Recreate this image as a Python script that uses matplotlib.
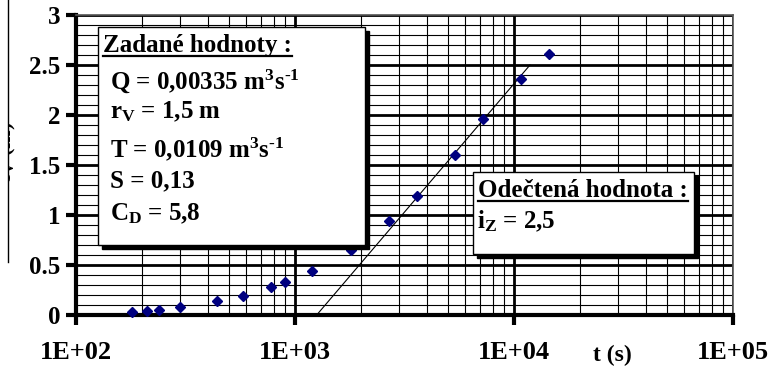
import numpy as np
import matplotlib
matplotlib.use("Agg")
import matplotlib.pyplot as plt
from matplotlib.patches import Rectangle
from matplotlib.lines import Line2D
from matplotlib.ticker import FixedLocator, FuncFormatter, NullFormatter

# measured drawdown s_V (m) vs time t (s)
t_data = [180, 210, 240, 300, 440, 580, 780, 900, 1200, 1800, 2700, 3600, 5400, 7200, 10800, 14400]
s_data = [0.03, 0.04, 0.05, 0.08, 0.14, 0.19, 0.28, 0.33, 0.44, 0.65, 0.94, 1.19, 1.60, 1.96, 2.36, 2.61]

# straight line fitted on the late points
line_t = [1256, 11830]
line_s = [0.0, 2.5]

x_major = [1e2, 1e3, 1e4, 1e5]
y_major = [0, 0.5, 1, 1.5, 2, 2.5, 3]

given_title = "Zadané hodnoty :"
given_lines = [
    r"Q = 0,00335 m$^{3}$s$^{\text{-}1}$",
    r"r$_\mathrm{V}$ = 1,5 m",
    r"T = 0,0109 m$^{3}$s$^{\text{-}1}$",
    "S = 0,13",
    r"C$_\mathrm{D}$ = 5,8",
]
read_title = "Odečtená hodnota :"
read_lines = [r"i$_\mathrm{Z}$ = 2,5"]

plt.rcParams["font.family"] = ["Liberation Serif", "DejaVu Serif"]
plt.rcParams["font.weight"] = "bold"
plt.rcParams["mathtext.fontset"] = "custom"
plt.rcParams["mathtext.rm"] = "Liberation Serif:bold"
plt.rcParams["mathtext.it"] = "Liberation Serif:bold"
plt.rcParams["mathtext.bf"] = "Liberation Serif:bold"

W, H = 769, 372
fig = plt.figure(figsize=(W / 100, H / 100), dpi=100)


def fx(px):
    return px / W


def fy(py):
    return 1 - py / H


ax = fig.add_axes([fx(76), fy(315), fx(733) - fx(76), fy(15) - fy(315)])
ax.set_xscale("log")
ax.set_xlim(1e2, 1e5)
ax.set_ylim(0, 3)

# grid
ax.xaxis.set_major_locator(FixedLocator(x_major))
minor_x = [m * d for d in [1e2, 1e3, 1e4] for m in range(2, 10)]
ax.xaxis.set_minor_locator(FixedLocator(minor_x))
ax.xaxis.set_minor_formatter(NullFormatter())
ax.yaxis.set_major_locator(FixedLocator(y_major))
ax.yaxis.set_minor_locator(FixedLocator(np.arange(0, 3.01, 0.1)))
ax.grid(True, which="major", color="black", linewidth=2)
ax.grid(True, which="minor", color="black", linewidth=0.8)
ax.set_axisbelow(True)

ax.xaxis.set_major_formatter(FuncFormatter(lambda v, p: "%.0E" % v))
ax.yaxis.set_major_formatter(FuncFormatter(lambda v, p: "%g" % v))
ax.tick_params(axis="both", which="major", direction="out", length=7, width=3, color="black")
ax.tick_params(axis="both", which="minor", length=0)
ax.tick_params(axis="x", which="major", labelsize=19, pad=12)
ax.tick_params(axis="y", which="major", labelsize=18, pad=4)

for side in ["left", "bottom"]:
    ax.spines[side].set_linewidth(3)
for side in ["top", "right"]:
    ax.spines[side].set_linewidth(1.2)
    ax.spines[side].set_color("#555555")

ax.plot(line_t, line_s, color="black", linewidth=0.8, zorder=3)
ax.plot(t_data, s_data, linestyle="none", marker="D", markersize=5,
        color="#00007f", zorder=4, clip_on=False)

ax.set_xlabel("t (s)", fontsize=17, fontweight="bold")
ax.xaxis.set_label_coords((612 - 76) / 657, -(345 - 315) / 300)

# y title, partly hidden at the left edge
fig.text(fx(6), fy(152), r"s$_\mathrm{V}$ (m)", rotation=90, ha="center", va="center",
         fontsize=16, fontweight="bold")
fig.add_artist(Rectangle((0, fy(262)), fx(8), 1 - fy(262), transform=fig.transFigure,
                         facecolor="white", edgecolor="none", zorder=10))
fig.add_artist(Line2D([fx(8), fx(8)], [fy(262), 1], transform=fig.transFigure,
                      color="black", linewidth=1, zorder=11))


def box(x0, y0, x1, y1):
    fig.add_artist(Rectangle((fx(x0 + 4), fy(y1 + 4)), fx(x1) - fx(x0), fy(y0) - fy(y1),
                             transform=fig.transFigure, facecolor="black",
                             edgecolor="black", zorder=5))
    fig.add_artist(Rectangle((fx(x0), fy(y1)), fx(x1) - fx(x0), fy(y0) - fy(y1),
                             transform=fig.transFigure, facecolor="white",
                             edgecolor="black", linewidth=1, zorder=6))


def underlined(x, y, s):
    t = fig.text(fx(x), fy(y), s, fontsize=18, fontweight="bold", ha="left",
                 va="baseline", zorder=7)
    fig.canvas.draw()
    bb = t.get_window_extent()
    fig.add_artist(Line2D([bb.x0 / W, bb.x1 / W], [fy(y + 4), fy(y + 4)],
                          transform=fig.transFigure, color="black", linewidth=1.6, zorder=7))


box(98, 27, 365, 245)
underlined(103, 52, given_title)
for (yy, s) in zip([89, 118, 157, 187, 220], given_lines):
    fig.text(fx(110), fy(yy), s, fontsize=18, fontweight="bold", ha="left",
             va="baseline", zorder=7)

box(473, 172, 694, 254)
underlined(478, 197, read_title)
fig.text(fx(477), fy(228), read_lines[0], fontsize=18, fontweight="bold", ha="left",
         va="baseline", zorder=7)

fig.savefig("out.png", dpi=100)
